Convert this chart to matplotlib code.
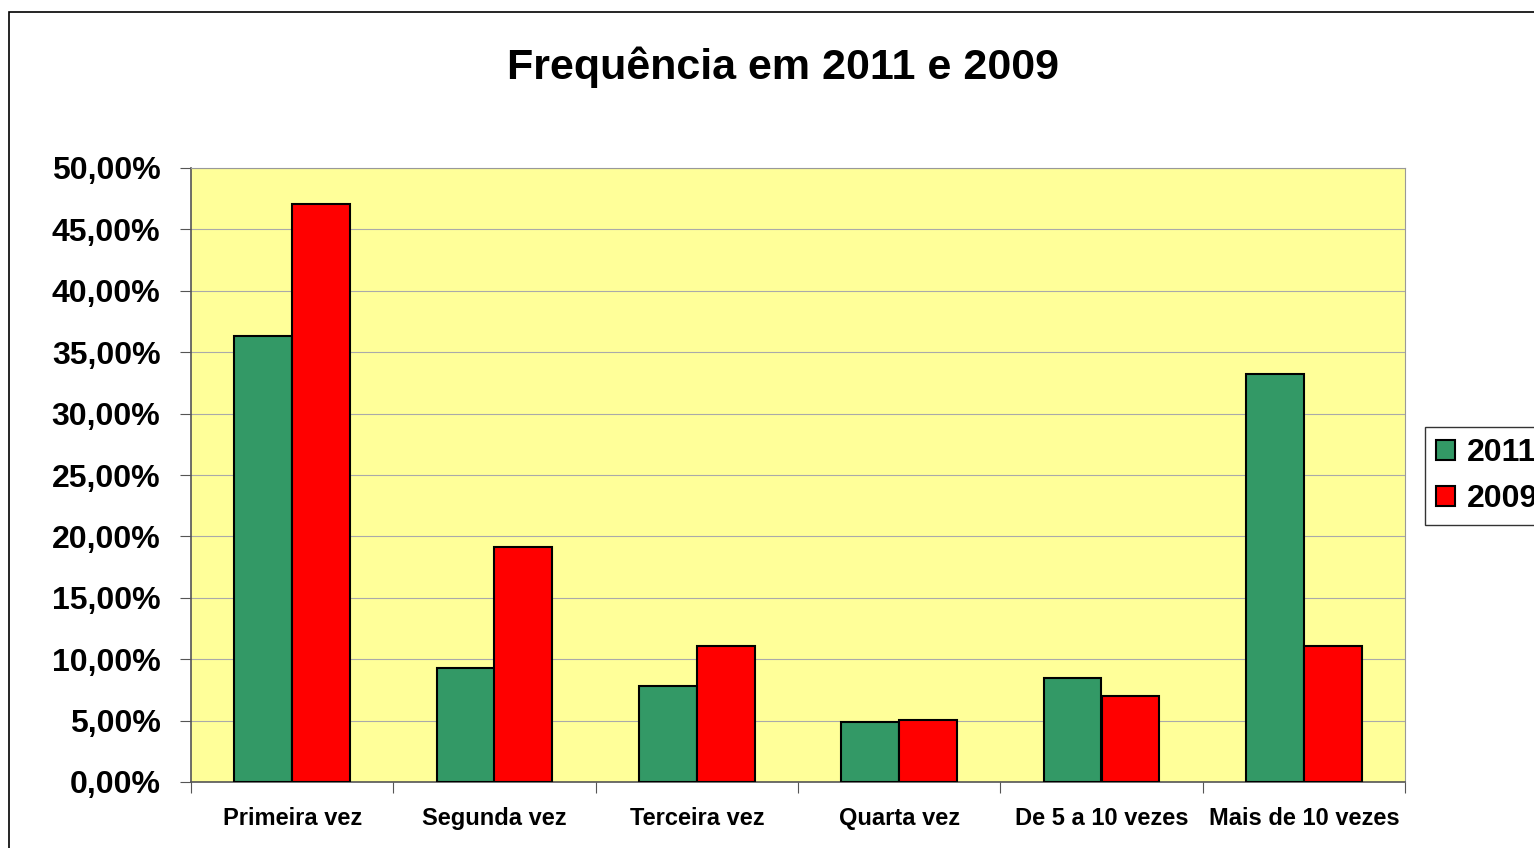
import numpy as np
import matplotlib.pyplot as plt
from matplotlib.patches import Rectangle
from matplotlib.ticker import FuncFormatter

categorias = ['Primeira vez', 'Segunda vez', 'Terceira vez', 'Quarta vez',
              'De 5 a 10 vezes', 'Mais de 10 vezes']
v2011 = [36.3, 9.3, 7.8, 4.9, 8.5, 33.2]
v2009 = [47.1, 19.1, 11.1, 5.05, 7.0, 11.1]

plt.rcParams['font.family'] = ['Liberation Sans', 'DejaVu Sans']
plt.rcParams['font.weight'] = 'bold'

fig = plt.figure(figsize=(15.34, 8.48), dpi=100)
ax = fig.add_axes([191/1534, 1 - 782/848, (1405-191)/1534, (782-168)/848])
ax.set_facecolor('#FFFF99')

x = np.arange(len(categorias))
w = 0.2857
ax.bar(x - w/2, v2011, w, color='#339966', edgecolor='black', linewidth=1.5, label='2011', zorder=3)
ax.bar(x + w/2, v2009, w, color='#FF0000', edgecolor='black', linewidth=1.5, label='2009', zorder=3)

ax.set_xlim(-0.5, len(categorias) - 0.5)
ax.set_ylim(0, 50)
ax.set_yticks(np.arange(0, 51, 5))
ax.yaxis.set_major_formatter(FuncFormatter(lambda v, p: f'{v:.2f}%'.replace('.', ',')))
ax.grid(axis='y', color='#aaaaaa', linewidth=0.8, zorder=0)

# category labels sit between the boundary ticks
ax.set_xticks(np.arange(-0.5, len(categorias), 1))
ax.set_xticklabels([])
ax.set_xticks(x, minor=True)
ax.set_xticklabels(categorias, minor=True, fontsize=17, fontweight='bold')
ax.tick_params(axis='x', which='minor', length=0, pad=18)
ax.tick_params(axis='x', which='major', length=8, direction='out', color='#555555')
ax.tick_params(axis='y', labelsize=23, length=8, color='#555555', pad=14)
for lab in ax.get_yticklabels():
    lab.set_fontweight('bold')

for s in ['top', 'right']:
    ax.spines[s].set_color('#999999')
for s in ['left', 'bottom']:
    ax.spines[s].set_color('#555555')
    ax.spines[s].set_linewidth(1.2)

fig.text(783/1534, 1 - 67/848, 'Frequência em 2011 e 2009', ha='center', va='center',
         fontsize=31, fontweight='bold')

leg = fig.legend(loc='upper left', bbox_to_anchor=(1425/1534, 1 - 427/848),
                 fontsize=23, frameon=True, fancybox=False, edgecolor='black',
                 handlelength=0.6, handleheight=0.6, handletextpad=0.35,
                 borderpad=0.35, labelspacing=0.5, borderaxespad=0)
leg.get_frame().set_linewidth(1.0)
for t in leg.get_texts():
    t.set_fontweight('bold')

# chart border, runs off the right and bottom edges like the original
fig.patches.append(Rectangle((9/1534, -0.1), 1.2, 1 - 12/848 + 0.1,
                             transform=fig.transFigure, fill=False,
                             edgecolor='black', linewidth=1.2))

fig.savefig('out.png', dpi=100)
